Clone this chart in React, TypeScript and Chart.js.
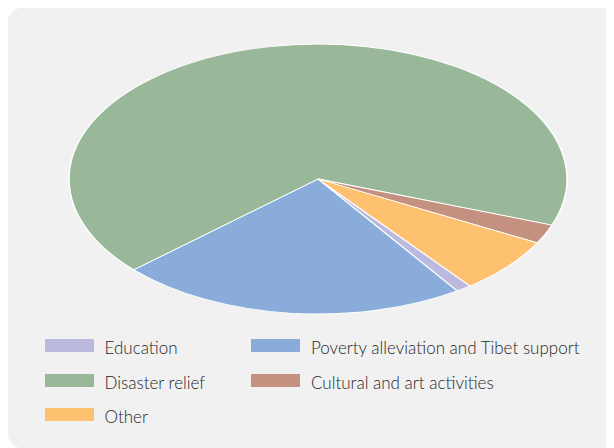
import React, { useEffect, useRef } from "react";
import { Chart, registerables } from "chart.js";

Chart.register(...registerables);

const categories = [
  "Education",
  "Poverty alleviation and Tibet support",
  "Disaster relief",
  "Cultural and art activities",
  "Other",
];
const values = [1.0, 22.7, 67.3, 2.3, 6.7];
const colors = ["#bbb9de", "#89acdb", "#99b899", "#c4907f", "#fec16f"];

const legendOrder = [
  [0, 1],
  [2, 3],
  [4],
];

const Y_SCALE = 135 / 249;

const ellipsePlugin = {
  id: "ellipse",
  beforeDatasetsDraw(chart: any) {
    const meta = chart.getDatasetMeta(0);
    const arc = meta.data[0];
    if (!arc) return;
    const { x, y } = arc;
    const ctx = chart.ctx;
    ctx.save();
    ctx.translate(x, y);
    ctx.scale(1, Y_SCALE);
    ctx.translate(-x, -y);
  },
  afterDatasetsDraw(chart: any) {
    chart.ctx.restore();
  },
};

export default function App() {
  const ref = useRef<HTMLCanvasElement | null>(null);
  useEffect(() => {
    if (!ref.current) return;
    const chart = new Chart(ref.current, {
      type: "pie",
      data: {
        labels: categories,
        datasets: [
          {
            data: values,
            backgroundColor: colors,
            borderColor: "#ffffff",
            borderWidth: 1.5,
            radius: 249,
          },
        ],
      },
      options: {
        responsive: false,
        animation: false,
        rotation: 142.4,
        layout: { padding: { left: 14, right: 0, top: 22, bottom: 0 } },
        plugins: {
          legend: { display: false },
          tooltip: { enabled: false },
        },
        events: [],
      },
      plugins: [ellipsePlugin],
    });
    return () => chart.destroy();
  }, []);

  return (
    <div
      style={{
        position: "relative",
        width: 606,
        height: 440,
        background: "#f1f1f1",
        borderRadius: "14px 4px 4px 14px",
        overflow: "hidden",
      }}
    >
      <canvas
        ref={ref}
        width={606}
        height={320}
        style={{ position: "absolute", left: 0, top: 0, width: 606, height: 320 }}
      />
      {legendOrder.map((row, r) =>
        row.map((idx, c) => (
          <div
            key={idx}
            style={{
              position: "absolute",
              left: c === 0 ? 37 : 243,
              top: 331 + r * 34.5,
              height: 13,
              display: "flex",
              alignItems: "center",
              whiteSpace: "nowrap",
            }}
          >
            <div style={{ width: 49, height: 13, background: colors[idx], flex: "none" }} />
            <span
              style={{
                marginLeft: c === 0 ? 10.5 : 11,
                fontFamily: "Lato, 'Open Sans', sans-serif",
                fontWeight: 300,
                fontSize: 17,
                color: "#262626",
                lineHeight: "13px",
                position: "relative",
                top: 2,
              }}
            >
              {categories[idx]}
            </span>
          </div>
        ))
      )}
    </div>
  );
}
